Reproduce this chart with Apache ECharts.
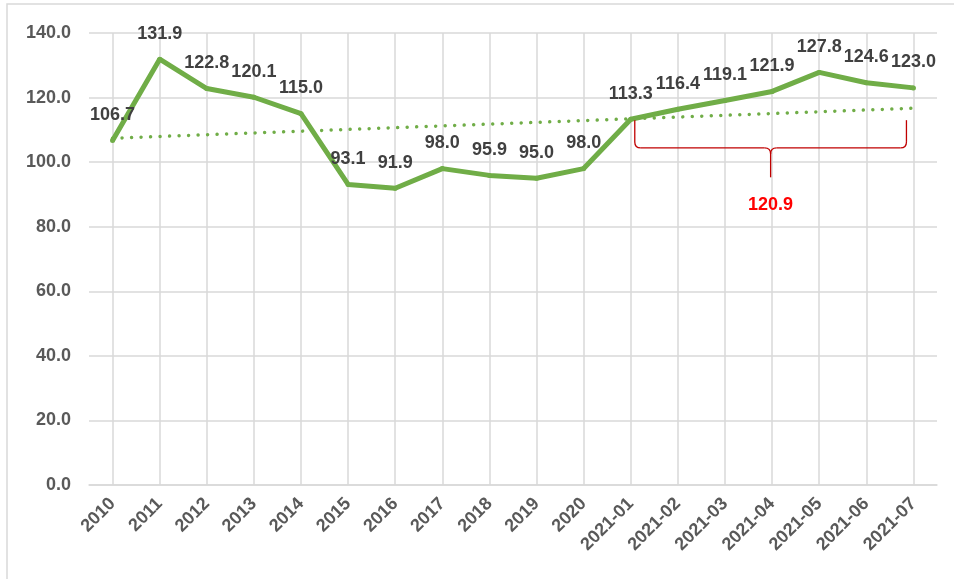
<!DOCTYPE html>
<html>
<head>
<meta charset="utf-8">
<script src="https://cdn.jsdelivr.net/npm/echarts@6/dist/echarts.min.js"></script>
<style>
    html, body { margin: 0; padding: 0; background: #fff; }
    #chart { width: 954px; height: 579px; }
</style>
</head>
<body>
<div id="chart"></div>
<script>
    // 类目与数值
    const categories = ['2010', '2011', '2012', '2013', '2014', '2015', '2016', '2017', '2018', '2019', '2020',
        '2021-01', '2021-02', '2021-03', '2021-04', '2021-05', '2021-06', '2021-07'];
    const values = [106.7, 131.9, 122.8, 120.1, 115.0, 93.1, 91.9, 98.0, 95.9, 95.0, 98.0,
        113.3, 116.4, 119.1, 121.9, 127.8, 124.6, 123.0];
    // 趋势线两端
    const trendEnds = [107.4, 116.7];
    const bracketText = '120.9';
    const yTicks = { min: 0, max: 140, interval: 20 };

    const trendData = categories.map((c, i) => i === 0 ? trendEnds[0] : (i === categories.length - 1 ? trendEnds[1] : null));

    const green = '#70AD47';
    const font = '"Liberation Sans", Arial, sans-serif';

    let option = {
        animation: false,
        grid: {
            left: 89,
            right: 17,
            top: 33,
            bottom: 94
        },
        xAxis: {
            type: 'category',
            data: categories,
            boundaryGap: true,
            axisLine: { lineStyle: { color: '#D9D9D9', width: 1.5 } },
            axisTick: { show: false },
            splitLine: {
                show: true,
                alignWithLabel: true,
                lineStyle: { color: '#D9D9D9', width: 1.5 }
            },
            axisLabel: {
                rotate: 45,
                interval: 0,
                margin: 16,
                color: '#595959',
                fontWeight: 'bold',
                fontSize: 18,
                fontFamily: font
            }
        },
        yAxis: {
            type: 'value',
            min: yTicks.min,
            max: yTicks.max,
            interval: yTicks.interval,
            axisLine: { show: false },
            axisTick: { show: false },
            splitLine: { lineStyle: { color: '#D9D9D9', width: 1.5 } },
            axisLabel: {
                margin: 18,
                color: '#595959',
                fontWeight: 'bold',
                fontSize: 18,
                fontFamily: font,
                formatter: v => v.toFixed(1)
            }
        },
        series: [{
            type: 'line',
            data: trendData,
            connectNulls: true,
            symbol: 'none',
            silent: true,
            lineStyle: { color: green, width: 3.5, type: [0.01, 9.5], cap: 'round' },
            z: 2
        }, {
            type: 'line',
            data: values,
            symbol: 'circle',
            symbolSize: 5,
            itemStyle: { color: green, borderWidth: 0 },
            lineStyle: { color: green, width: 5 },
            label: {
                show: true,
                position: 'top',
                distance: 14,
                color: '#404040',
                fontWeight: 'bold',
                fontSize: 18,
                fontFamily: font,
                formatter: p => p.value.toFixed(1)
            },
            z: 3
        }]
    };

    let dom = echarts.init(document.getElementById('chart'));
    dom.setOption(option);

    // 大括号标注：2021-01 至 2021-07
    const i0 = categories.indexOf('2021-01');
    const i1 = categories.length - 1;
    const pL = dom.convertToPixel({ gridIndex: 0 }, [i0, 113]);
    const pR = dom.convertToPixel({ gridIndex: 0 }, [i1, 113]);
    const yMid = dom.convertToPixel({ gridIndex: 0 }, [0, 104.4])[1];
    const yTip = dom.convertToPixel({ gridIndex: 0 }, [0, 95.3])[1];
    const xl = pL[0] + 4, xr = pR[0] - 7, yt = pL[1];
    const xc = (xl + xr) / 2;
    const r = 6;
    const braceStyle = { stroke: '#C00000', lineWidth: 1.3, fill: 'none' };

    function seg(x1, y1, x2, y2) {
        return { type: 'line', silent: true, z: 10, shape: { x1, y1, x2, y2 }, style: braceStyle };
    }
    function curve(x1, y1, cx, cy, x2, y2) {
        return { type: 'bezierCurve', silent: true, z: 10, shape: { x1, y1, cpx1: cx, cpy1: cy, x2, y2 }, style: braceStyle };
    }

    const braceParts = [
        seg(xl, yt, xl, yMid - r),
        curve(xl, yMid - r, xl, yMid, xl + r, yMid),
        seg(xl + r, yMid, xc - r, yMid),
        curve(xc - r, yMid, xc, yMid, xc, yMid + r),
        curve(xc, yMid + r, xc, yMid, xc + r, yMid),
        seg(xc, yMid + r, xc, yTip),
        seg(xc + r, yMid, xr - r, yMid),
        curve(xr - r, yMid, xr, yMid, xr, yMid - r),
        seg(xr, yMid - r, xr, yt)
    ];

    dom.setOption({
        graphic: [{
            type: 'rect',
            silent: true,
            shape: { x: 7, y: 4, width: 980, height: 620 },
            style: { fill: 'none', stroke: '#D9D9D9', lineWidth: 1.5 },
            z: -10
        }].concat(braceParts, [{
            type: 'text',
            silent: true,
            x: xc,
            y: yTip + 28,
            style: {
                text: bracketText,
                fill: '#FF0000',
                font: 'bold 18px ' + font,
                align: 'center',
                verticalAlign: 'middle'
            },
            z: 10
        }])
    });
</script>
</body>
</html>
